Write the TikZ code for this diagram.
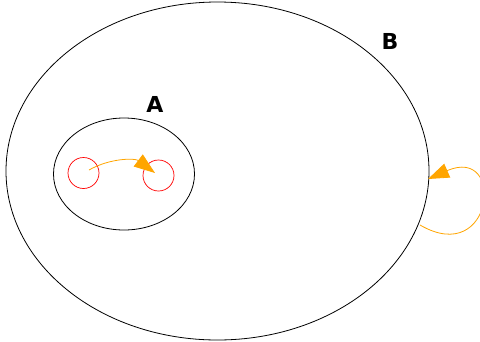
\documentclass[tikz,border=0pt]{standalone}
\usepackage{fontspec}
\setmainfont{DejaVu Sans}
\usetikzlibrary{arrows.meta,shapes.geometric}
\definecolor{maporange}{RGB}{255,165,0}
\begin{document}
\begin{tikzpicture}[x=1pt,y=-1pt,
  setline/.style={draw=black,line width=0.8pt},
  elem/.style={draw=red,line width=0.7pt,circle,minimum size=31pt,inner sep=0pt},
  maparrow/.style={draw=maporange,line width=0.8pt,-{Triangle[length=21pt,width=15pt]}},
  setlabel/.style={font=\bfseries\fontsize{22}{26}\selectfont,inner sep=0pt}]
\useasboundingbox (0,0) rectangle (480,341);
\node[setline,ellipse,minimum width=423pt,minimum height=338pt,inner sep=0pt] (B) at (217.5,171) {};
\node[setline,ellipse,minimum width=141pt,minimum height=112pt,inner sep=0pt] (A) at (124,174) {};
\node[elem] (a1) at (83.5,173) {};
\node[elem] (a2) at (158.5,175.5) {};
\node[setlabel] (LA) at (155,104) {A};
\node[setlabel] (LB) at (390,41) {B};
\coordinate (s1) at (89,170);
\coordinate (t1) at (155,173);
\draw[maparrow] (s1) .. controls (110,158) and (135,158) .. (t1);
\coordinate (s2) at (420,225);
\coordinate (t2) at (428,179);
\draw[maparrow] (s2) .. controls (494,268) and (506,145) .. (t2);
\end{tikzpicture}
\end{document}
